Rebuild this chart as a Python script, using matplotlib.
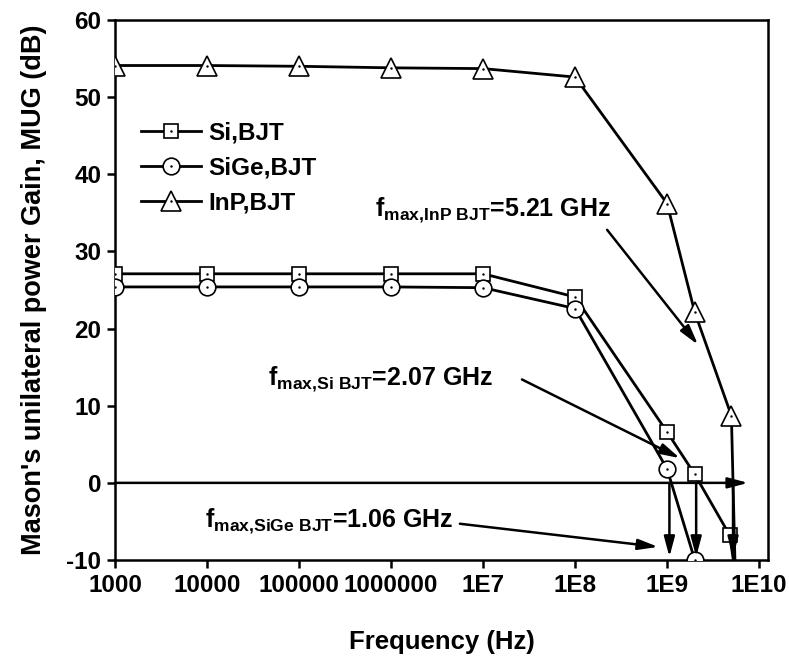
import matplotlib
matplotlib.use("Agg")
import matplotlib.pyplot as plt
from matplotlib.ticker import FixedLocator, FixedFormatter, NullLocator
from matplotlib.lines import Line2D
from matplotlib.legend_handler import HandlerTuple

# ---------------- data ----------------
freq_si = [1e3, 1e4, 1e5, 1e6, 1e7, 1e8, 1e9, 2e9, 4.8e9, 6e9]
mug_si = [27.1, 27.1, 27.1, 27.1, 27.1, 24.1, 6.6, 1.1, -6.8, -14.8]

freq_sige = [1e3, 1e4, 1e5, 1e6, 1e7, 1e8, 1e9, 2e9]
mug_sige = [25.4, 25.4, 25.4, 25.4, 25.3, 22.6, 1.8, -10.0]

freq_inp = [1e3, 1e4, 1e5, 1e6, 1e7, 1e8, 1e9, 2e9, 5e9, 6e9]
mug_inp = [54.1, 54.1, 54.0, 53.8, 53.7, 52.6, 36.2, 22.1, 8.7, -30.0]

series_labels = ["Si,BJT", "SiGe,BJT", "InP,BJT"]

xtick_vals = [1e3, 1e4, 1e5, 1e6, 1e7, 1e8, 1e9, 1e10]
xtick_labels = ["1000", "10000", "100000", "1000000", "1E7", "1E8", "1E9", "1E10"]
ytick_vals = [-10, 0, 10, 20, 30, 40, 50, 60]

fmax_values = [1.06e9, 2.07e9, 5.21e9]  # SiGe, Si, InP

# annotation texts (left-baseline anchor) and arrows (tail -> head), data coords
ann_texts = [
    r"f$_{\mathrm{max{,}InP\ BJT}}$=5.21 GHz",
    r"f$_{\mathrm{max{,}Si\ BJT}}$=2.07 GHz",
    r"f$_{\mathrm{max{,}SiGe\ BJT}}$=1.06 GHz",
]
ann_text_pos = [(6.7e5, 34.5), (4.6e4, 12.7), (9.5e3, -5.8)]
ann_arrow_tail = [(2.23e8, 32.8), (2.65e7, 13.4), (5.6e6, -5.3)]
ann_arrow_head = [(2.17e9, 17.9), (1.38e9, 3.2), (8.0e8, -8.3)]

# ---------------- style ----------------
plt.rcParams["font.family"] = ["Liberation Sans", "DejaVu Sans"]
plt.rcParams["font.weight"] = "bold"
plt.rcParams["mathtext.fontset"] = "custom"
plt.rcParams["mathtext.rm"] = "Liberation Sans:bold"
plt.rcParams["mathtext.it"] = "Liberation Sans:bold"
plt.rcParams["mathtext.bf"] = "Liberation Sans:bold"
plt.rcParams["mathtext.sf"] = "Liberation Sans:bold"

fig = plt.figure(figsize=(7.89, 6.6), dpi=100)
ax = fig.add_axes([0.1458, 0.1515, 0.8276, 0.8182])

lw = 2.0
common = dict(color="black", lw=lw, markerfacecolor="white",
              markeredgecolor="black", markeredgewidth=1.2, clip_on=True)

l_si, = ax.plot(freq_si, mug_si, marker="s", ms=10, zorder=3, **common)
l_sige, = ax.plot(freq_sige, mug_sige, marker="o", ms=12, zorder=3, **common)
l_inp, = ax.plot(freq_inp, mug_inp, marker="^", ms=14, zorder=3, **common)
for fx, fy in [(freq_si, mug_si), (freq_sige, mug_sige), (freq_inp, mug_inp)]:
    ax.plot(fx, fy, ls="none", marker=".", ms=1.5, color="black", zorder=4)

ax.set_xscale("log")
ax.set_xlim(1e3, 1.25e10)
ax.set_ylim(-10, 60)
ax.xaxis.set_major_locator(FixedLocator(xtick_vals))
ax.xaxis.set_major_formatter(FixedFormatter(xtick_labels))
ax.xaxis.set_minor_locator(NullLocator())
ax.set_yticks(ytick_vals)
ax.set_yticklabels([str(v) for v in ytick_vals])

for s in ax.spines.values():
    s.set_linewidth(1.8)
ax.tick_params(axis="both", which="major", direction="out", length=6,
               width=1.8, labelsize=17.5, pad=4)
for t in ax.get_xticklabels() + ax.get_yticklabels():
    t.set_fontweight("bold")

ax.set_xlabel("Frequency (Hz)", fontsize=18.5, fontweight="bold", labelpad=24)
ax.set_ylabel("Mason's unilateral power Gain, MUG (dB)", fontsize=19.5,
              fontweight="bold", labelpad=14)

# arrows
astyle = "-|>,head_length=1.2,head_width=0.32"
akw = dict(arrowstyle=astyle, color="black", lw=1.8, mutation_scale=10,
           shrinkA=0, shrinkB=0)
# zero line arrow
ax.annotate("", xy=(7.6e9, 0), xytext=(1e3, 0), arrowprops=akw, zorder=5)
# vertical fmax arrows
for fm in fmax_values:
    ax.annotate("", xy=(fm, -9.6), xytext=(fm, 0), arrowprops=akw, zorder=5)

for txt, tp, tail, head in zip(ann_texts, ann_text_pos, ann_arrow_tail, ann_arrow_head):
    ax.text(tp[0], tp[1], txt, fontsize=18, fontweight="bold",
            ha="left", va="baseline", zorder=6)
    ax.annotate("", xy=head, xytext=tail, arrowprops=akw, zorder=5)

# legend
def h(mk, ms):
    return (Line2D([], [], color="black", lw=lw, marker=mk, ms=ms,
                   markerfacecolor="white", markeredgecolor="black", markeredgewidth=1.2),
            Line2D([], [], ls="none", marker=".", ms=1.5, color="black"))

handles = [h("s", 10), h("o", 12), h("^", 14)]
leg = ax.legend(handles, series_labels, loc="upper left",
                bbox_to_anchor=(0.04, 0.812), frameon=False, fontsize=17.5,
                handlelength=2.47, handletextpad=0.3, labelspacing=0.5,
                borderpad=0, borderaxespad=0,
                handler_map={tuple: HandlerTuple(ndivide=1, pad=0)})
for t in leg.get_texts():
    t.set_fontweight("bold")

fig.savefig("out.png", dpi=100)
